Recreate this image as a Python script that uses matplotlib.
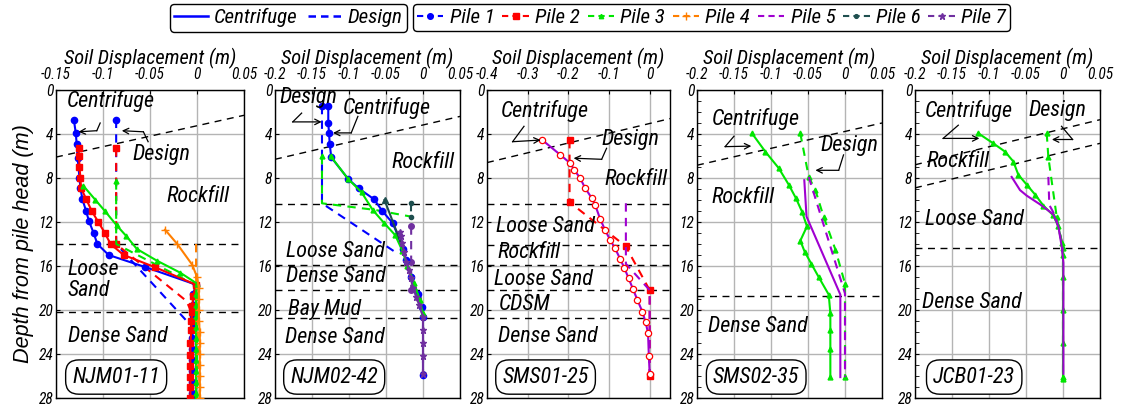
import matplotlib
matplotlib.use('Agg')
import matplotlib.pyplot as plt
from matplotlib import font_manager as fm
from matplotlib.lines import Line2D
from matplotlib.ticker import MultipleLocator

# ---------------- data ----------------
panel_names = ['NJM01-11', 'NJM02-42', 'SMS01-25', 'SMS02-35', 'JCB01-23']
pile_labels = ['Pile 1', 'Pile 2', 'Pile 3', 'Pile 4', 'Pile 5', 'Pile 6', 'Pile 7']
depth_ticks = [0, 4, 8, 12, 16, 20, 24, 28]
depth_ticklabels = ['0', '4', '8', '12', '16', '20', '24', '28']

p1_xticks = [-0.15, -0.1, -0.05, 0, 0.05]
p1_xticklabels = ['-0.15', '-0.1', '-0.05', '0', '0.05']
p2_xticks = [-0.2, -0.15, -0.1, -0.05, 0, 0.05]
p2_xticklabels = ['-0.2', '-0.15', '-0.1', '-0.05', '0', '0.05']
p3_xticks = [-0.4, -0.3, -0.2, -0.1, 0]
p3_xticklabels = ['-0.4', '-0.3', '-0.2', '-0.1', '0']

# Panel 1 : NJM01-11
p1_pile1_cf_x = [-0.131, -0.129, -0.128, -0.127, -0.125, -0.124, -0.122, -0.118, -0.115, -0.110, -0.106, -0.094, -0.055,
                 -0.001, -0.004, -0.004, -0.004, -0.004, -0.005, -0.005, -0.005, -0.005, -0.005, -0.005, -0.005]
p1_pile1_cf_d = [2.7, 3.9, 4.9, 6.2, 8.0, 8.9, 9.9, 11.0, 11.9, 13.0, 14.0, 15.0, 16.1,
                 17.7, 18.5, 19.5, 20.5, 21.5, 22.5, 23.5, 24.5, 25.5, 26.5, 27.5, 28.0]
p1_pile1_de_x = [-0.086, -0.086, -0.012, -0.004, -0.004]
p1_pile1_de_d = [2.7, 14.0, 20.9, 21.5, 28.0]
p1_pile2_cf_x = [-0.126, -0.1255, -0.125, -0.124, -0.1234, -0.118, -0.112, -0.105, -0.098, -0.092, -0.078, -0.045,
                 -0.001, -0.004, -0.005, -0.005, -0.006, -0.006, -0.007, -0.007, -0.007, -0.007, -0.007, -0.007]
p1_pile2_cf_d = [5.3, 6.0, 7.0, 8.0, 8.9, 9.9, 11.0, 12.0, 13.0, 14.0, 15.0, 16.1,
                 17.7, 18.7, 19.6, 20.2, 21.0, 21.8, 23.0, 24.1, 25.1, 26.1, 27.0, 28.0]
p1_pile2_de_x = [-0.086, -0.086, -0.011, -0.006, -0.006]
p1_pile2_de_d = [5.3, 14.0, 19.2, 20.2, 28.0]
p1_pile3_cf_x = [-0.121, -0.108, -0.098, -0.0855, -0.075, -0.064, -0.043, -0.018, 0.0,
                 -0.001, -0.001, -0.001, -0.001, -0.001, -0.001, -0.001, -0.001, -0.001, -0.001, -0.001]
p1_pile3_cf_d = [8.7, 10.0, 11.0, 12.3, 13.3, 14.45, 15.5, 16.6, 17.6,
                 18.5, 19.5, 20.5, 21.5, 22.5, 23.5, 24.5, 25.5, 26.5, 27.5, 28.0]
p1_pile3_de_x = [-0.086, -0.086, 0.0, 0.0]
p1_pile3_de_d = [8.3, 14.0, 17.8, 28.0]
p1_pile4_cf_x = [-0.034, -0.021, -0.005, 0.0, 0.002, 0.002, 0.002, 0.002, 0.003, 0.003, 0.003, 0.003, 0.003, 0.003, 0.003]
p1_pile4_cf_d = [12.7, 14.0, 15.9, 17.0, 18.0, 19.0, 20.0, 21.0, 22.0, 23.0, 24.0, 25.0, 26.0, 27.0, 28.0]
p1_pile4_de_x = [-0.001, -0.001, 0.003]
p1_pile4_de_d = [14.0, 17.0, 28.0]
p1_layers_flat = [14.0, 20.2]
p1_layer_slope_x = [-0.15, 0.05]
p1_layer_slope_d = [6.1, 2.3]

# Panel 2 : NJM02-42
p2_pile1_cf_x = [-0.128, -0.128, -0.127, -0.126, -0.124, -0.101, -0.087, -0.066, -0.055, -0.041, -0.034, -0.027,
                 -0.023, -0.016, -0.007, -0.002, 0.0, 0.0]
p2_pile1_cf_d = [1.45, 2.97, 3.94, 4.94, 6.12, 8.1, 8.94, 9.94, 11.0, 12.1, 13.2, 14.45,
                 15.45, 17.0, 18.5, 19.7, 20.6, 25.9]
p2_pile1_de_x = [-0.1365, -0.1365, -0.036]
p2_pile1_de_d = [1.45, 10.3, 14.8]
p2_pile3_cf_x = [-0.125, -0.101, -0.083, -0.068, -0.053, -0.0375, -0.028, -0.021, -0.012, -0.0045, 0.0]
p2_pile3_cf_d = [6.0, 8.1, 9.3, 10.9, 12.06, 13.2, 14.6, 16.0, 17.5, 19.1, 20.3]
p2_pile3_de_x = [-0.1365, -0.1365, -0.065, -0.017]
p2_pile3_de_d = [6.0, 10.3, 10.9, 11.5]
p2_pile6_cf_x = [-0.052, -0.027]
p2_pile6_cf_d = [10.0, 14.4]
p2_pile6_de_x = [-0.016, -0.016]
p2_pile6_de_d = [10.25, 11.5]
p2_pile7_cf_x = [-0.0316, -0.030, -0.028, -0.0257, -0.0226, -0.0195, -0.0167, -0.0135, -0.009, -0.0054,
                 0.0, 0.0, 0.0, 0.0, 0.0]
p2_pile7_cf_d = [12.9, 13.3, 13.9, 14.7, 15.6, 16.4, 17.1, 18.0, 18.8, 19.5, 20.6, 21.8, 23.0, 24.2, 25.8]
p2_pile7_de_x = [-0.016, -0.016, -0.016, -0.016, -0.007, 0.0, 0.0]
p2_pile7_de_d = [12.4, 15.6, 17.0, 18.2, 18.9, 20.6, 25.8]
p2_layers_flat = [10.36, 15.9, 18.2, 20.7]
p2_layer_slope_x = [-0.2, 0.05]
p2_layer_slope_d = [6.3, 2.4]

# Panel 3 : SMS01-25
p3_pile2_cf_x = [-0.264, -0.2195, -0.195, -0.185, -0.171, -0.159, -0.142, -0.134, -0.122, -0.110, -0.0976, -0.085,
                 -0.072, -0.062, -0.052, -0.041, -0.030, -0.018, -0.010, -0.004, -0.002, 0.0]
p3_pile2_cf_d = [4.55, 5.9, 6.67, 7.3, 8.0, 8.9, 9.85, 10.45, 11.7, 12.7, 13.6, 14.4,
                 15.4, 16.2, 17.1, 18.1, 19.1, 20.15, 21.1, 22.1, 24.2, 25.8]
p3_pile5_cf_x = [-0.264, -0.2195, -0.195, -0.185, -0.171, -0.159, -0.142, -0.134, -0.122, -0.110, -0.0976, -0.085,
                 -0.072, -0.062, -0.052, -0.041, -0.030, -0.018, -0.010, -0.004, -0.002, 0.0]
p3_pile5_cf_d = [4.55, 5.9, 6.67, 7.3, 8.0, 8.9, 9.85, 10.45, 11.7, 12.7, 13.6, 14.4,
                 15.4, 16.2, 17.1, 18.1, 19.1, 20.15, 21.1, 22.1, 24.2, 25.8]
p3_pile2_de_x = [-0.197, -0.197, -0.059, 0.0, 0.0]
p3_pile2_de_d = [4.55, 10.2, 14.2, 18.2, 26.0]
p3_pile5_de_x = [-0.0585, -0.0585, 0.0, 0.0]
p3_pile5_de_d = [10.3, 15.8, 18.2, 25.8]
p3_layers_flat = [10.36, 14.1, 15.9, 18.2, 20.7]
p3_layer_slope_x = [-0.4, 0.05]
p3_layer_slope_d = [6.6, 2.6]

# Panel 4 : SMS02-35
p4_pile3_cf_x = [-0.1257, -0.1077, -0.0896, -0.0761, -0.0662, -0.0581, -0.0514, -0.0604, -0.0545, -0.0455, -0.0356,
                 -0.022, -0.0198, -0.0198, -0.0198, -0.0198]
p4_pile3_cf_d = [3.94, 5.6, 7.1, 8.6, 9.85, 11.06, 12.4, 13.7, 14.7, 15.8, 17.0, 18.6, 20.3, 21.8, 23.5, 26.1]
p4_pile3_de_x = [-0.0604, -0.049, -0.040, -0.029, -0.013, 0.0, 0.0]
p4_pile3_de_d = [3.94, 7.9, 9.1, 11.5, 14.5, 17.6, 26.1]
p4_pile5_cf_x = [-0.055, -0.052, -0.0063, -0.0063]
p4_pile5_cf_d = [8.2, 11.5, 18.6, 26.1]
p4_pile5_de_x = [-0.049, 0.0, 0.0]
p4_pile5_de_d = [7.9, 18.5, 26.1]
p4_layers_flat = [18.7]
p4_layer_slope_x = [-0.2, 0.05]
p4_layer_slope_d = [6.84, 3.0]

# Panel 5 : JCB01-23
p5_pile3_cf_x = [-0.1144, -0.0942, -0.0784, -0.0671, -0.0604, -0.0491, -0.0378, -0.0266, -0.0131, -0.0063, -0.0018,
                 0.0, 0.0, 0.0, 0.0, 0.0]
p5_pile3_cf_d = [3.94, 4.85, 5.6, 6.5, 7.7, 8.6, 9.5, 10.5, 11.4, 12.4, 13.9, 15.0, 17.0, 20.0, 23.0, 26.1]
p5_pile3_de_x = [-0.022, -0.0198, -0.0086, 0.0, 0.0]
p5_pile3_de_d = [3.94, 6.1, 11.5, 14.4, 26.3]
p5_pile5_cf_x = [-0.0694, -0.0581, -0.0491, -0.031, -0.0131, -0.0063, -0.0018, 0.0005, 0.0005]
p5_pile5_cf_d = [7.9, 9.1, 9.6, 10.4, 11.3, 12.4, 14.2, 15.7, 25.8]
p5_pile5_de_x = [-0.0198, -0.0185, -0.010, 0.0, 0.0]
p5_pile5_de_d = [7.9, 10.45, 11.5, 14.2, 25.8]
p5_layers_flat = [14.4]
p5_layer_slope1_x = [-0.2, 0.05]
p5_layer_slope1_d = [6.8, 2.7]
p5_layer_slope2_x = [-0.2, 0.05]
p5_layer_slope2_d = [8.9, 4.85]

# ---------------- fonts ----------------
names = {f.name for f in fm.fontManager.ttflist}
WIDE = 'Liberation Sans' if 'Liberation Sans' in names else 'DejaVu Sans'


def pick_condensed():
    def is_cond(f):
        s = str(f.stretch).lower()
        n = f.name.lower()
        return ('condensed' in s) or ('narrow' in n) or ('condensed' in n)
    cands = [f for f in fm.fontManager.ttflist if is_cond(f)]
    if not cands:
        return None
    pref = ['Liberation Sans Narrow', 'Roboto Condensed', 'Open Sans Condensed', 'Noto Sans', 'Open Sans',
            'Roboto', 'Liberation Sans', 'DejaVu Sans', 'Lato', 'Inter']

    def score(f):
        s = 0
        if str(f.style).lower() in ('italic', 'oblique'):
            s -= 10
        if str(f.weight).lower() in ('400', 'normal', 'regular', 'book'):
            s -= 5
        if str(f.stretch).lower() in ('condensed', 'semi-condensed'):
            s -= 3
        if f.name in pref:
            s -= 40 - pref.index(f.name)
        return s
    cands.sort(key=score)
    return cands[0]


cond = pick_condensed()
if cond is not None:
    plt.rcParams['font.family'] = [cond.name, 'DejaVu Sans']
    try:
        plt.rcParams['font.stretch'] = cond.stretch
    except Exception:
        pass
else:
    plt.rcParams['font.family'] = [WIDE, 'DejaVu Sans']
plt.rcParams['font.style'] = 'italic'
plt.rcParams['axes.unicode_minus'] = False

W, H = 1128, 413
fig = plt.figure(figsize=(W / 100, H / 100), dpi=100)
renderer = fig.canvas.get_renderer()


def text_w(s, size, **kw):
    t = fig.text(0, 0, s, fontsize=size, **kw)
    w = t.get_window_extent(renderer).width
    t.remove()
    return w


LAB = min(18.0, max(10.0, 15.5 * 100 / text_w('Dense Sand', 15.5)))
TICK = min(14.0, max(8.0, 12 * 30 / text_w('-0.05', 12)))
XLAB = min(18.0, max(10.0, 15.5 * 172 / text_w('Soil Displacement (m)', 15.5)))
YLAB = min(18.0, max(10.0, 15.5 * 240 / text_w('Depth from pile head (m)', 15.5,
                                                  family=[WIDE, 'DejaVu Sans'], stretch='normal')))

# ---------------- styles ----------------
COL = {1: '#0000ff', 2: '#ff0000', 3: '#00e600', 4: '#ff7f00', 5: '#a000d0', 6: '#1f4f4f', 7: '#7030a0'}
MRK = {1: 'o', 2: 's', 3: '^', 4: '+', 5: '', 6: '.', 7: '*'}
MS = {1: 4.5, 2: 5, 3: 3.5, 4: 6, 5: 0, 6: 6, 7: 5}

top_px, bot_px = 90, 398
ax_px = [(56, 244), (275, 460), (487, 670), (697, 882), (915, 1100)]
axes = []
for (l, r) in ax_px:
    ax = fig.add_axes([l / W, 1 - bot_px / H, (r - l) / W, (bot_px - top_px) / H])
    axes.append(ax)


def cf(ax, pile, x, d, **kw):
    kw.setdefault('marker', MRK[pile] if MRK[pile] else None)
    kw.setdefault('ms', MS[pile])
    ax.plot(x, d, color=COL[pile], lw=1.5, ls='-', zorder=4, **kw)


def de(ax, pile, x, d, **kw):
    kw.setdefault('marker', MRK[pile] if MRK[pile] else None)
    kw.setdefault('ms', MS[pile])
    ax.plot(x, d, color=COL[pile], lw=1.5, ls=(0, (4, 3)), zorder=3, **kw)


def layers(ax, flat, slopes):
    for yv in flat:
        ax.axhline(yv, color='black', lw=1.0, ls=(0, (5, 4)), zorder=2)
    for sx, sd in slopes:
        ax.plot(sx, sd, color='black', lw=1.0, ls=(0, (5, 4)), zorder=2)


def leader(ax, p0, p1, p2):
    ax.plot([p0[0], p1[0]], [p0[1], p1[1]], color='black', lw=0.9, zorder=6)
    ax.annotate('', xy=p2, xytext=p1,
                arrowprops=dict(arrowstyle='->', color='black', lw=0.9, shrinkA=0, shrinkB=0), zorder=6)


def lab(ax, x, d, s):
    ax.text(x, d, s, fontsize=LAB, ha='left', va='center', zorder=7, linespacing=1.0)


xlims = [(-0.15, 0.05), (-0.2, 0.05), (-0.4, 0.05), (-0.2, 0.05), (-0.2, 0.05)]
xt = [(p1_xticks, p1_xticklabels), (p2_xticks, p2_xticklabels), (p3_xticks, p3_xticklabels),
      (p2_xticks, p2_xticklabels), (p2_xticks, p2_xticklabels)]
for i, ax in enumerate(axes):
    ax.set_xlim(*xlims[i])
    ax.set_ylim(28, 0)
    ax.xaxis.tick_top()
    ax.xaxis.set_label_position('top')
    ax.set_xticks(xt[i][0])
    ax.set_xticklabels(xt[i][1])
    ax.set_yticks(depth_ticks)
    ax.set_yticklabels(depth_ticklabels)
    ax.tick_params(axis='both', which='major', labelsize=TICK, direction='in', length=3)
    ax.tick_params(axis='x', pad=6)
    ax.tick_params(axis='y', pad=2)
    ax.grid(True, color='#b4b4b4', lw=1.0, zorder=0)
    ax.set_axisbelow(True)
    ax.set_xlabel('Soil Displacement (m)', fontsize=XLAB, labelpad=2)
    for sp in ax.spines.values():
        sp.set_linewidth(1.0)
    ax.text(0.32, 0.068, panel_names[i], transform=ax.transAxes, fontsize=LAB, ha='center', va='center',
            zorder=8, bbox=dict(boxstyle='round,pad=0.3,rounding_size=0.6', fc='white', ec='black', lw=1.0))
for ax in (axes[3], axes[4]):
    ax.yaxis.set_minor_locator(MultipleLocator(1))
    ax.tick_params(axis='y', which='minor', direction='in', length=3)

axes[0].set_ylabel('Depth from pile head (m)', family=[WIDE, 'DejaVu Sans'], stretch='normal',
                   fontsize=YLAB, labelpad=3)

# Panel 1
ax = axes[0]
layers(ax, p1_layers_flat, [(p1_layer_slope_x, p1_layer_slope_d)])
de(ax, 1, p1_pile1_de_x, p1_pile1_de_d, markevery=[0])
de(ax, 2, p1_pile2_de_x, p1_pile2_de_d, markevery=[0, 1])
de(ax, 3, p1_pile3_de_x, p1_pile3_de_d, markevery=[0])
de(ax, 4, p1_pile4_de_x, p1_pile4_de_d, marker=None)
cf(ax, 1, p1_pile1_cf_x, p1_pile1_cf_d)
cf(ax, 2, p1_pile2_cf_x, p1_pile2_cf_d)
cf(ax, 3, p1_pile3_cf_x, p1_pile3_cf_d)
cf(ax, 4, p1_pile4_cf_x, p1_pile4_cf_d)
lab(ax, -0.138, 1.0, 'Centrifuge')
lab(ax, -0.069, 5.9, 'Design')
lab(ax, -0.032, 9.7, 'Rockfill')
lab(ax, -0.138, 17.3, 'Loose\nSand')
lab(ax, -0.137, 22.4, 'Dense Sand')
leader(ax, (-0.103, 3.0), (-0.1066, 3.7), (-0.126, 3.8))
leader(ax, (-0.052, 4.7), (-0.057, 3.8), (-0.080, 3.7))

# Panel 2
ax = axes[1]
layers(ax, p2_layers_flat, [(p2_layer_slope_x, p2_layer_slope_d)])
de(ax, 1, p2_pile1_de_x, p2_pile1_de_d, markevery=[0])
de(ax, 3, p2_pile3_de_x, p2_pile3_de_d, markevery=[0])
de(ax, 6, p2_pile6_de_x, p2_pile6_de_d)
de(ax, 7, p2_pile7_de_x, p2_pile7_de_d, marker='o', ms=4)
cf(ax, 1, p2_pile1_cf_x, p2_pile1_cf_d)
cf(ax, 3, p2_pile3_cf_x, p2_pile3_cf_d)
cf(ax, 6, p2_pile6_cf_x, p2_pile6_cf_d, markevery=[0], marker='^', ms=5)
cf(ax, 7, p2_pile7_cf_x, p2_pile7_cf_d)
lab(ax, -0.194, 0.7, 'Design')
lab(ax, -0.108, 1.6, 'Centrifuge')
lab(ax, -0.043, 6.6, 'Rockfill')
lab(ax, -0.185, 14.7, 'Loose Sand')
lab(ax, -0.185, 17.0, 'Dense Sand')
lab(ax, -0.183, 20.0, 'Bay Mud')
lab(ax, -0.187, 22.5, 'Dense Sand')
leader(ax, (-0.164, 2.1), (-0.176, 2.9), (-0.137, 2.9))
leader(ax, (-0.088, 2.4), (-0.097, 3.9), (-0.1216, 3.9))

# Panel 3
ax = axes[2]
layers(ax, p3_layers_flat, [(p3_layer_slope_x, p3_layer_slope_d)])
de(ax, 2, p3_pile2_de_x, p3_pile2_de_d)
de(ax, 5, p3_pile5_de_x, p3_pile5_de_d)
cf(ax, 5, p3_pile5_cf_x, p3_pile5_cf_d)
ax.plot(p3_pile2_cf_x, p3_pile2_cf_d, color=COL[2], lw=0, marker='o', ms=4.5, mfc='white', mec=COL[2],
        mew=0.9, zorder=5)
lab(ax, -0.366, 1.9, 'Centrifuge')
lab(ax, -0.118, 4.5, 'Design')
lab(ax, -0.110, 8.1, 'Rockfill')
lab(ax, -0.378, 12.4, 'Loose Sand')
lab(ax, -0.374, 14.8, 'Rockfill')
lab(ax, -0.382, 17.2, 'Loose Sand')
lab(ax, -0.370, 19.5, 'CDSM')
lab(ax, -0.374, 22.4, 'Dense Sand')
leader(ax, (-0.309, 3.3), (-0.337, 4.7), (-0.268, 4.55))
leader(ax, (-0.106, 5.3), (-0.118, 6.3), (-0.187, 6.2))

# Panel 4
ax = axes[3]
layers(ax, p4_layers_flat, [(p4_layer_slope_x, p4_layer_slope_d)])
de(ax, 3, p4_pile3_de_x, p4_pile3_de_d)
de(ax, 5, p4_pile5_de_x, p4_pile5_de_d)
cf(ax, 3, p4_pile3_cf_x, p4_pile3_cf_d)
cf(ax, 5, p4_pile5_cf_x, p4_pile5_cf_d)
lab(ax, -0.180, 2.6, 'Centrifuge')
lab(ax, -0.033, 5.0, 'Design')
lab(ax, -0.180, 9.8, 'Rockfill')
lab(ax, -0.185, 21.5, 'Dense Sand')
leader(ax, (-0.150, 4.2), (-0.162, 5.15), (-0.1266, 5.1))
leader(ax, (-0.002, 5.9), (-0.0085, 7.3), (-0.040, 7.3))

# Panel 5
ax = axes[4]
layers(ax, p5_layers_flat, [(p5_layer_slope1_x, p5_layer_slope1_d), (p5_layer_slope2_x, p5_layer_slope2_d)])
de(ax, 3, p5_pile3_de_x, p5_pile3_de_d)
de(ax, 5, p5_pile5_de_x, p5_pile5_de_d)
cf(ax, 3, p5_pile3_cf_x, p5_pile3_cf_d)
cf(ax, 5, p5_pile5_cf_x, p5_pile5_cf_d)
lab(ax, -0.1865, 1.9, 'Centrifuge')
lab(ax, -0.047, 1.9, 'Design')
lab(ax, -0.184, 6.5, 'Rockfill')
lab(ax, -0.187, 11.8, 'Loose Sand')
lab(ax, -0.190, 19.3, 'Dense Sand')
leader(ax, (-0.1415, 3.2), (-0.162, 4.4), (-0.113, 4.4))
leader(ax, (-0.002, 3.3), (0.013, 4.5), (-0.015, 4.5))

# ---------------- legends ----------------
LEG = LAB * 0.95
em_px = LEG * 100 / 72
h1 = [Line2D([], [], color=COL[1], lw=1.8), Line2D([], [], color=COL[1], lw=1.8, ls=(0, (3, 2)))]
h2 = []
for p in range(1, 8):
    h2.append(Line2D([], [], color=COL[p], lw=1.5, ls=(0, (3, 2)), marker=MRK[p] if MRK[p] else None,
                     ms=MS[p] * 0.9))


def make_leg(handles, labels, x0, ncol, hl, cs):
    lg = fig.legend(handles, labels, loc='upper left', bbox_to_anchor=(x0 / W, 1 - 4 / H),
                    ncol=ncol, fontsize=LEG, frameon=True, fancybox=True, edgecolor='black', framealpha=1,
                    handlelength=hl, handletextpad=0.3, columnspacing=cs, borderpad=0.2, borderaxespad=0)
    lg.get_frame().set_linewidth(1.0)
    return lg


def fitted_leg(handles, labels, x0, ncol, hl, cs0, target):
    lg = make_leg(handles, labels, x0, ncol, hl, cs0)
    w = lg.get_window_extent(renderer).width
    gaps = max(ncol - 1, 1)
    cs = max(0.15, cs0 + (target - w) / gaps / em_px)
    lg.remove()
    return make_leg(handles, labels, x0, ncol, hl, cs)


fitted_leg(h1, ['Centrifuge', 'Design'], 170, 2, 1.6, 0.6, 237)
fitted_leg(h2, pile_labels, 413, 7, 1.25, 0.6, 597)

fig.savefig('out.png', dpi=100)
